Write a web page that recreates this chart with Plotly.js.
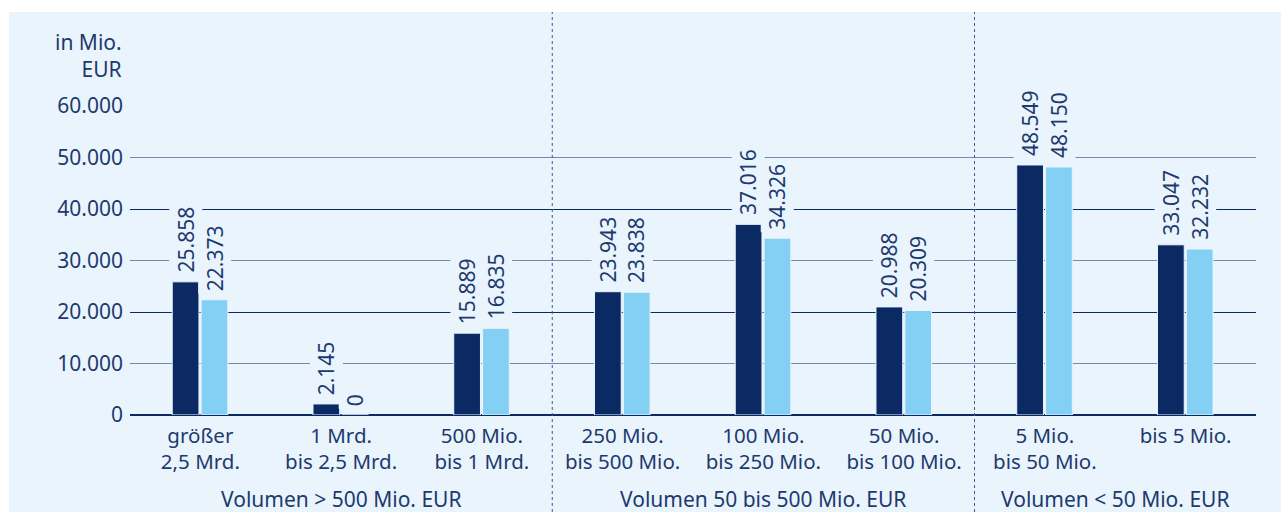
<!DOCTYPE html>
<html>
<head>
<meta charset="utf-8">
<script src="https://cdn.plot.ly/plotly-3.0.1.min.js"></script>
<style>
  html, body { margin: 0; padding: 0; background: #ffffff; width: 1281px; height: 512px; overflow: hidden; }
  #chart { position: absolute; left: 9px; top: 12px; width: 1272px; height: 500px; }
</style>
</head>
<body>
<div id="chart"></div>
<script>
// ---- data ----
const categories = [
  "größer<br>2,5 Mrd.",
  "1 Mrd.<br>bis 2,5 Mrd.",
  "500 Mio.<br>bis 1 Mrd.",
  "250 Mio.<br>bis 500 Mio.",
  "100 Mio.<br>bis 250 Mio.",
  "50 Mio.<br>bis 100 Mio.",
  "5 Mio.<br>bis 50 Mio.",
  "bis 5 Mio."
];
const seriesDark  = [25858, 2145, 15889, 23943, 37016, 20988, 48549, 33047];
const seriesLight = [22373, 0, 16835, 23838, 34326, 20309, 48150, 32232];
const groupLabels = ["Volumen > 500 Mio. EUR", "Volumen 50 bis 500 Mio. EUR", "Volumen < 50 Mio. EUR"];
const groupSizes  = [3, 3, 2];
const yTitle = "in Mio.<br>EUR";

// ---- style ----
const BG = "#eaf4fd";
const TXT = "#1d3a6e";
const DARK = "#0b2a64";
const LIGHT = "#84d0f4";
const FONT = "Noto Sans, Open Sans, sans-serif";
const FS = 21;
const FS_CAT = 20.5;
const W = 1272, H = 500;
const M = {l: 121, r: 25, t: 94, b: 97};
const plotH = H - M.t - M.b;
const pxPerCat = (W - M.l - M.r) / categories.length;
const BAR_W = 0.19;
const OFF_DARK = -0.2, OFF_LIGHT = 0.005;

function fmt(v) {
  return String(v).replace(/\B(?=(\d{3})+(?!\d))/g, ".");
}

const idx = categories.map((c, i) => i);

const traces = [
  {
    type: "bar", x: idx, y: seriesDark, name: "dark",
    offset: OFF_DARK, width: BAR_W, yaxis: "y",
    marker: {color: DARK, line: {color: BG, width: 1}},
    hoverinfo: "skip"
  },
  {
    type: "bar", x: idx, y: seriesLight, name: "light",
    offset: OFF_LIGHT, width: BAR_W, yaxis: "y2",
    marker: {color: LIGHT, line: {color: BG, width: 1}},
    hoverinfo: "skip"
  }
];

const annotations = [];
[[seriesDark, OFF_DARK, "y"], [seriesLight, OFF_LIGHT, "y2"]].forEach(([s, off, yr]) => {
  const dx = (off + BAR_W / 2) * pxPerCat;
  s.forEach((v, i) => {
    annotations.push({
      x: i, y: v, xref: "x", yref: yr,
      text: fmt(v), showarrow: false, textangle: -90,
      xanchor: "center", yanchor: "bottom", xshift: dx, yshift: 6,
      bgcolor: BG, borderpad: 2,
      font: {family: FONT, size: FS, color: TXT}
    });
  });
});

// group labels + separators
const shapes = [];
let start = 0;
groupSizes.forEach((n, g) => {
  const center = start + (n - 1) / 2;
  annotations.push({
    x: center, y: 0, xref: "x", yref: "paper",
    text: groupLabels[g], showarrow: false,
    xanchor: "center", yanchor: "middle", yshift: -84, borderpad: 0,
    font: {family: FONT, size: FS, color: TXT}
  });
  start += n;
  if (g < groupSizes.length - 1) {
    shapes.push({
      type: "line", xref: "x", yref: "paper",
      x0: start - 0.5, x1: start - 0.5,
      y0: -M.b / plotH, y1: 1 + M.t / plotH,
      line: {color: "#3b5b8c", width: 1, dash: "dot"},
      layer: "above"
    });
  }
});

annotations.push({
  x: 0, y: 1, xref: "paper", yref: "paper",
  text: yTitle, showarrow: false, align: "right",
  xanchor: "right", yanchor: "bottom", xshift: -6, yshift: 21,
  font: {family: FONT, size: FS, color: TXT}
});

const layout = {
  width: W, height: H,
  margin: M,
  paper_bgcolor: BG, plot_bgcolor: BG,
  separators: ",.",
  showlegend: false,
  font: {family: FONT, size: FS, color: TXT},
  xaxis: {
    type: "linear",
    tickmode: "array", tickvals: idx, ticktext: categories,
    range: [-0.5, categories.length - 0.5],
    showgrid: false, zeroline: false, showline: false, ticks: "",
    ticklabelstandoff: 6,
    tickfont: {family: FONT, size: FS_CAT, color: TXT},
    fixedrange: true
  },
  yaxis: {
    range: [0, 60000], dtick: 10000, tickformat: ",d",
    showgrid: true, gridcolor: "#7389b0", gridwidth: 1,
    zeroline: true, zerolinecolor: DARK, zerolinewidth: 2,
    showline: false, ticks: "", ticklabelstandoff: 6,
    tickfont: {family: FONT, size: FS, color: TXT},
    fixedrange: true
  },
  yaxis2: {
    overlaying: "y", range: [0, 60000], dtick: 20000,
    showgrid: true, gridcolor: DARK, gridwidth: 1,
    zeroline: false, showticklabels: false, ticks: "",
    fixedrange: true
  },
  annotations: annotations,
  shapes: shapes
};

Plotly.newPlot("chart", traces, layout, {staticPlot: true, displayModeBar: false});
</script>
</body>
</html>
